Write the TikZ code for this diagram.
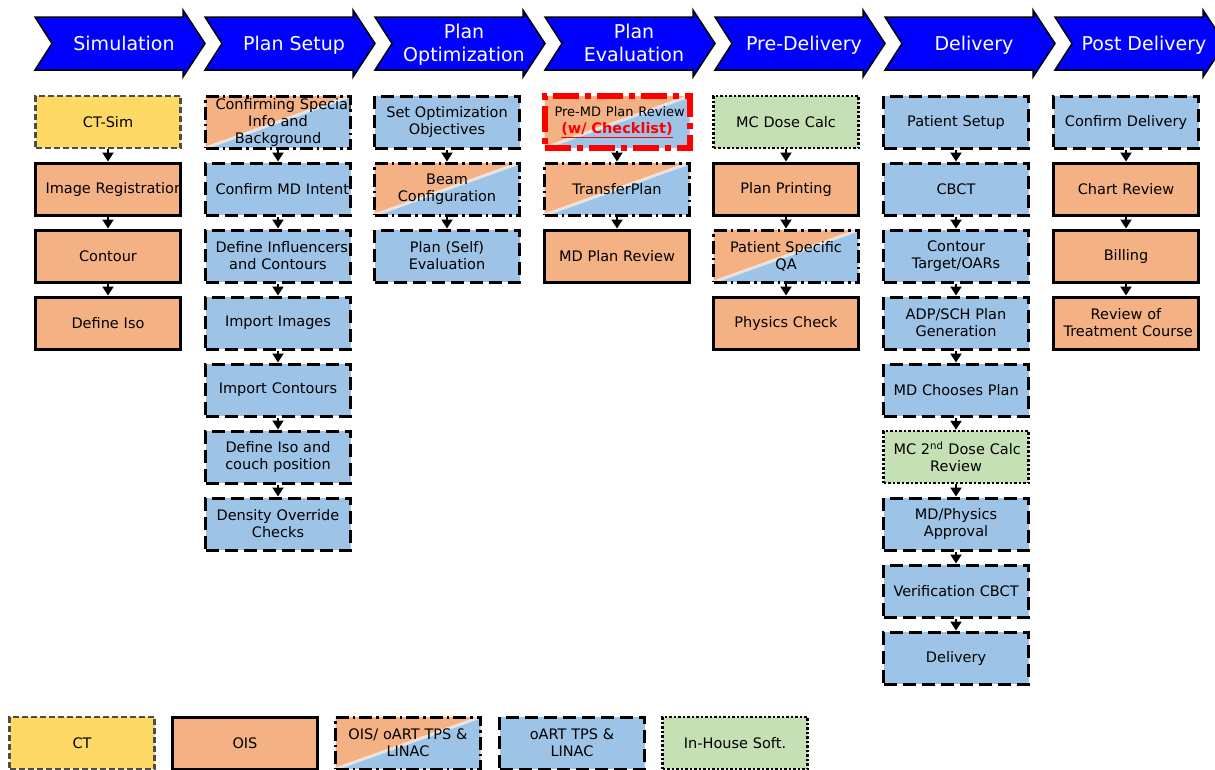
\documentclass[tikz,border=0pt]{standalone}
\usepackage{fontspec}
\setmainfont{DejaVu Sans}
\usetikzlibrary{arrows.meta,positioning}

\definecolor{ctyellow}{HTML}{FFD966}
\definecolor{oisorange}{HTML}{F4B183}
\definecolor{oartblue}{HTML}{9DC3E6}
\definecolor{housegreen}{HTML}{C5E0B4}
\hyphenpenalty=10000
\exhyphenpenalty=10000

\begin{document}
\begin{tikzpicture}[x=1pt, y=-1pt, node distance=67pt, on grid,
                    every step box/.style = {},
                    step box/.style = {rectangle, draw=black, line width=3pt, text width=125pt, inner xsep=10pt, inner ysep=0pt,
                                       minimum height=52pt, align=center, font=\fontsize{14.5}{17}\selectfont, every step box},
                    ct step/.style = {step box, fill=ctyellow, draw=black!70, line width=2.5pt, dash pattern=on 6pt off 3pt},
                    ois step/.style = {step box, fill=oisorange},
                    oart step/.style = {step box, fill=oartblue, dash pattern=on 13pt off 6pt},
                    house step/.style = {step box, fill=housegreen, line width=2.5pt, dash pattern=on 2.5pt off 2pt},
                    mixed step/.style = {step box, dash pattern=on 13pt off 4pt on 2.5pt off 4pt,
                                         path picture={
                                           \fill[oartblue] (path picture bounding box.south west) rectangle (path picture bounding box.north east);
                                           \fill[oisorange] (path picture bounding box.south west) -- (path picture bounding box.north west) -- (path picture bounding box.north east) -- cycle;
                                           \draw[solid, white, line width=3pt, opacity=.6] (path picture bounding box.south west) -- (path picture bounding box.north east);}},
                    review step/.style = {mixed step, draw=red, line width=6pt, dash pattern=on 26pt off 6pt on 6pt off 6pt},
                    flow/.style = {line width=2pt, -{Triangle[length=9pt, width=11pt]}},
                    phase arrow/.style = {fill=blue, draw=black, line width=1.5pt, line join=miter},
                    phase label/.style = {text=white, align=center, font=\fontsize{19}{23}\selectfont,
                                          execute at begin node=\strut, execute at end node=\strut}]
    \useasboundingbox (0,0) rectangle (1215,769);
    % phase chevrons on top
    \foreach \x/\name [count=\i] in {35/Simulation, 205/Plan Setup, 375/{Plan\\Optimization}, 545/{Plan\\Evaluation},
                                     715/Pre-Delivery, 885/Delivery, 1055/Post Delivery} {
        \draw[phase arrow] (\x,17) -- (\x+148,17) -- (\x+148,10) -- (\x+170,43.5) -- (\x+148,77) -- (\x+148,70) -- (\x,70) -- (\x+17,43.5) -- cycle;
        \node[phase label] (phase\i) at (\x+89,46) {\name};
    }
    % simulation
    \node[ct step] (ctsim) at (108,122) {CT-Sim};
    \node[ois step, below=of ctsim] (imgreg) {Image~Registration};
    \node[ois step, below=of imgreg] (contour) {Contour};
    \node[ois step, below=of contour] (defiso) {Define Iso};
    % plan setup
    \node[mixed step] (special) at (278,122) {Confirming~Special\\Info and\\Background};
    \node[oart step, below=of special] (mdintent) {Confirm~MD~Intent};
    \node[oart step, below=of mdintent] (influencers) {Define~Influencers\\and Contours};
    \node[oart step, below=of influencers] (impimages) {Import Images};
    \node[oart step, below=of impimages] (impcontours) {Import Contours};
    \node[oart step, below=of impcontours] (isocouch) {Define Iso and\\couch position};
    \node[oart step, below=of isocouch] (density) {Density~Override\\Checks};
    % plan optimization
    \node[oart step] (objectives) at (447,122) {Set~Optimization\\Objectives};
    \node[mixed step, below=of objectives] (beams) {Beam\\Configuration};
    \node[oart step, below=of beams] (selfeval) {Plan (Self)\\Evaluation};
    % plan evaluation
    \node[review step] (premd) at (617,122) {{\fontsize{13}{17}\selectfont Pre-MD~Plan~Review}\\\textcolor{red}{\bfseries\underline{(w/ Checklist)}}};
    \node[mixed step, below=of premd] (transfer) {TransferPlan};
    \node[ois step, below=of transfer] (mdreview) {MD Plan Review};
    % pre-delivery
    \node[house step] (mcdose) at (786,122) {MC Dose Calc};
    \node[ois step, below=of mcdose] (printing) {Plan Printing};
    \node[mixed step, below=of printing] (psqa) {Patient~Specific\\QA};
    \node[ois step, below=of psqa] (physcheck) {Physics Check};
    % delivery
    \node[oart step] (setup) at (956,122) {Patient Setup};
    \node[oart step, below=of setup] (cbct) {CBCT};
    \node[oart step, below=of cbct] (targets) {Contour\\Target/OARs};
    \node[oart step, below=of targets] (adpsch) {ADP/SCH Plan\\Generation};
    \node[oart step, below=of adpsch] (chooses) {MD~Chooses~Plan};
    \node[house step, below=of chooses] (mcsecond) {MC~2\textsuperscript{nd}~Dose~Calc\\Review};
    \node[oart step, below=of mcsecond] (approval) {MD/Physics\\Approval};
    \node[oart step, below=of approval] (vercbct) {Verification~CBCT};
    \node[oart step, below=of vercbct] (delivery) {Delivery};
    % post delivery
    \node[oart step] (confirm) at (1126,122) {Confirm~Delivery};
    \node[ois step, below=of confirm] (chart) {Chart Review};
    \node[ois step, below=of chart] (billing) {Billing};
    \node[ois step, below=of billing] (course) {Review of\\Treatment~Course};
    % legend
    \node[ct step] (legct) at (82,743) {CT};
    \node[ois step] (legois) at (245,743) {OIS};
    \node[mixed step] (legmixed) at (408,743) {OIS/~oART~TPS~\&\\LINAC};
    \node[oart step] (legoart) at (572,743) {oART TPS \&\\LINAC};
    \node[house step] (leghouse) at (735,743) {In-House Soft.};
    % connections
    \draw[flow] (ctsim) -- (imgreg); \draw[flow] (imgreg) -- (contour); \draw[flow] (contour) -- (defiso);
    \draw[flow] (special) -- (mdintent); \draw[flow] (mdintent) -- (influencers); \draw[flow] (influencers) -- (impimages);
    \draw[flow] (impimages) -- (impcontours); \draw[flow] (impcontours) -- (isocouch); \draw[flow] (isocouch) -- (density);
    \draw[flow] (objectives) -- (beams); \draw[flow] (beams) -- (selfeval);
    \draw[flow] (premd) -- (transfer); \draw[flow] (transfer) -- (mdreview);
    \draw[flow] (mcdose) -- (printing); \draw[flow] (printing) -- (psqa); \draw[flow] (psqa) -- (physcheck);
    \draw[flow] (setup) -- (cbct); \draw[flow] (cbct) -- (targets); \draw[flow] (targets) -- (adpsch); \draw[flow] (adpsch) -- (chooses);
    \draw[flow] (chooses) -- (mcsecond); \draw[flow] (mcsecond) -- (approval); \draw[flow] (approval) -- (vercbct); \draw[flow] (vercbct) -- (delivery);
    \draw[flow] (confirm) -- (chart); \draw[flow] (chart) -- (billing); \draw[flow] (billing) -- (course);
\end{tikzpicture}
\end{document}
